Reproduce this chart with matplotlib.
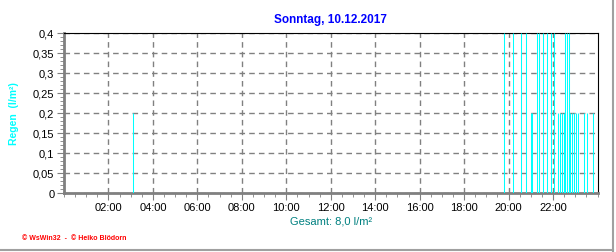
import matplotlib
matplotlib.use('Agg')
import matplotlib.pyplot as plt
from matplotlib.ticker import MultipleLocator, FuncFormatter
from matplotlib.lines import Line2D

# Regen-Ereignisse (Stunde des Tages, Menge in l/m²)
hours = [3.10,
         19.81, 20.21, 20.57, 20.80, 20.99, 21.07, 21.26, 21.38, 21.56,
         21.75, 21.92, 22.06, 22.24, 22.33, 22.41, 22.48, 22.55, 22.64,
         22.72, 22.78, 22.87, 22.96, 23.03, 23.14, 23.41, 23.54, 23.81]
rain = [0.2,
        0.4, 0.4, 0.4, 0.4, 0.2, 0.2, 0.4, 0.4, 0.4,
        0.4, 0.4, 0.4, 0.2, 0.2, 0.2, 0.2, 0.4, 0.4,
        0.4, 0.2, 0.2, 0.2, 0.2, 0.2, 0.2, 0.2, 0.2]
tick_hours = [2, 4, 6, 8, 10, 12, 14, 16, 18, 20, 22]
tick_labels = ['%02d:00' % h for h in tick_hours]

title = 'Sonntag, 10.12.2017'
total = 'Gesamt: 8,0 l/m²'

plt.rcParams['font.family'] = ['Liberation Sans', 'DejaVu Sans']

fig = plt.figure(figsize=(6.16, 2.53), dpi=100)
ax = fig.add_axes([64 / 616, 1 - 193.5 / 253, (597.5 - 64) / 616, (193.5 - 34) / 253])

ax.vlines(hours, 0, rain, color='#00ffff', lw=0.75, zorder=3, snap=True)

ax.set_xlim(0, 24)
ax.set_ylim(0, 0.4)
ax.set_xticks(tick_hours)
ax.set_xticklabels(tick_labels)
ax.xaxis.set_minor_locator(MultipleLocator(0.5))
ax.yaxis.set_major_locator(MultipleLocator(0.05))
ax.yaxis.set_minor_locator(MultipleLocator(0.01))
ax.yaxis.set_major_formatter(FuncFormatter(lambda v, p: ('%g' % round(v, 2)).replace('.', ',')))

ax.tick_params(axis='both', which='major', labelsize=8, length=5, color='#808080', pad=2)
ax.tick_params(axis='both', which='minor', length=3, color='#808080')

ax.grid(True, which='major', linestyle=(0, (4, 3)), color='#808080', lw=1.0)

ax.spines['top'].set_color('black')
ax.spines['right'].set_color('black')
ax.spines['left'].set_color('#808080')
ax.spines['bottom'].set_color('#808080')
ax.spines['left'].set_linewidth(2)
ax.spines['bottom'].set_linewidth(2)

ax.set_title(title, color='#0000ff', fontsize=8.5, fontweight='bold', pad=8)
ax.set_xlabel(total, color='#008080', fontsize=8, labelpad=2)
ax.set_ylabel('Regen  (l/m²)', color='#00ffff', fontsize=7.5, fontweight='bold', labelpad=10)

fig.text(22 / 616, 1 - 239 / 253, '© WsWin32  -  © Heiko Blödorn', color='red',
         fontsize=5, fontweight='bold', va='center')

# grauer Rahmen rechts und unten
fig.add_artist(Line2D([613 / 616, 613 / 616], [0, 1], color='#a0a0a0', lw=1.5))
fig.add_artist(Line2D([0, 613 / 616], [2 / 253, 2 / 253], color='#a0a0a0', lw=1.5))

fig.savefig('out.png', dpi=100)
